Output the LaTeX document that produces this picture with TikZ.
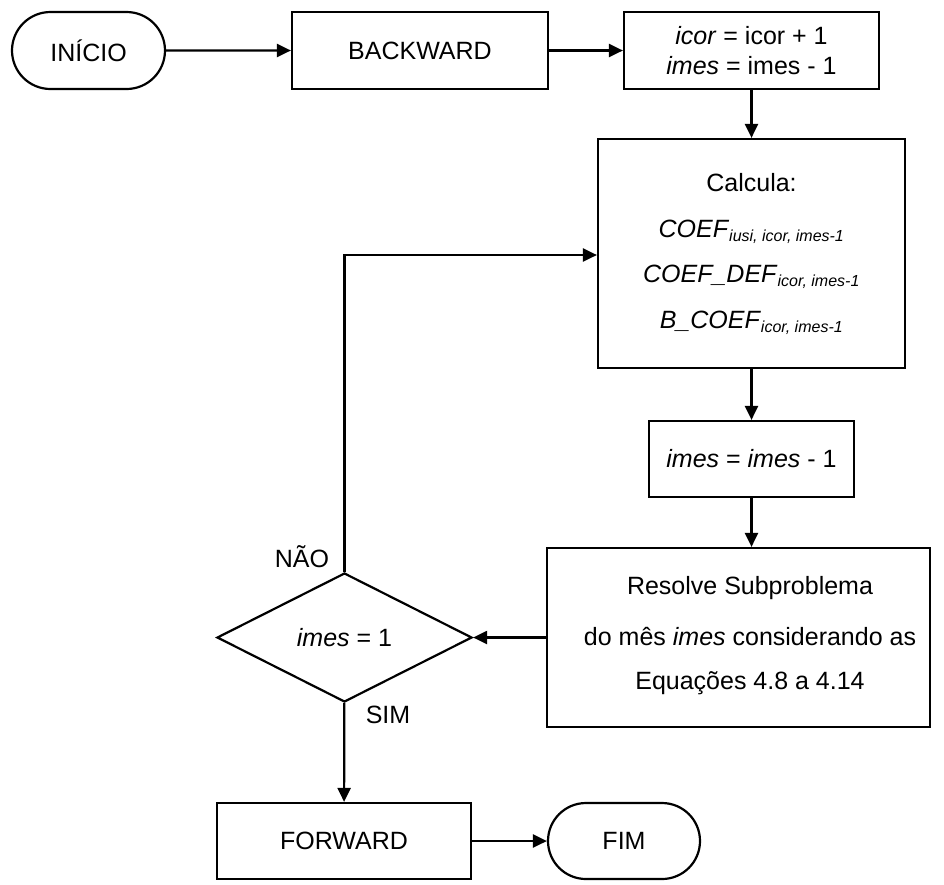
\documentclass[tikz,border=0pt]{standalone}
\usepackage{fontspec}
\setmainfont{Liberation Sans}
\usetikzlibrary{shapes.geometric,shapes.misc,arrows.meta}
\begin{document}
\begin{tikzpicture}[x=1pt,y=-1pt,
  every node/.style={font=\fontsize{25}{30}\selectfont, inner sep=0pt},
  proc/.style={draw, line width=2.2pt, rectangle, align=center},
  term/.style={draw, line width=2.2pt, rounded rectangle, minimum width=153pt, minimum height=77pt},
  dec/.style={draw, line width=2.2pt, diamond, minimum width=255pt, minimum height=129pt},
  arr/.style={line width=2.2pt, -{Triangle[length=14pt,width=13pt]}},
  lbl/.style={font=\fontsize{25}{30}\selectfont}]
\newcommand{\subtx}[1]{\textsubscript{\fontsize{16}{18}\selectfont\textit{#1}}}
\useasboundingbox (0,0) rectangle (944,884);
\node[term] (ini) at (88.5,50.5) {INÍCIO};
\node[proc, minimum width=256pt, minimum height=77pt] (back) at (420,50.5) {BACKWARD};
\node[proc, minimum width=255pt, minimum height=77pt] (icor) at (751.5,50.5) {\textit{icor} = icor + 1\\\textit{imes} = imes - 1};
\node[proc, minimum width=307pt, minimum height=229pt] (calc) at (751.5,253.5) {};
\node at (751.5,183) {Calcula:};
\node at (751.5,232) {\textit{COEF}\subtx{iusi, icor, imes-1}};
\node at (751.5,277) {\textit{COEF\_DEF}\subtx{icor, imes-1}};
\node at (751.5,323) {\textit{B\_COEF}\subtx{icor, imes-1}};
\node[proc, minimum width=205pt, minimum height=76pt] (imes) at (751.5,459) {\textit{imes} = \textit{imes} - 1};
\node[proc, minimum width=383pt, minimum height=179pt] (res) at (738.5,637.5) {};
\node at (750,588) {Resolve Subproblema};
\node at (750,637) {do mês \textit{imes} considerando as};
\node at (750,683) {Equações 4.8 a 4.14};
\node[dec] (dec) at (344.5,637.5) {\textit{imes} = 1};
\node[proc, minimum width=254pt, minimum height=76pt] (fwd) at (344,841) {FORWARD};
\node[term, minimum width=152pt, minimum height=76pt] (fim) at (624,841) {FIM};
\node[lbl] (nao) at (302,557) {NÃO};
\node[lbl] (sim) at (388,715) {SIM};
\coordinate (loop) at (344.5,255);
\draw[arr] (ini) -- (back);
\draw[arr] (back) -- (icor);
\draw[arr] (icor) -- (calc);
\draw[arr] (calc) -- (imes);
\draw[arr] (imes.south) -- (imes.south |- res.north);
\draw[arr] (res) -- (dec);
\draw[arr] (dec.north) -- (loop) -- (calc.west |- loop);
\draw[arr] (dec) -- (fwd);
\draw[arr] (fwd) -- (fim);
\end{tikzpicture}
\end{document}
